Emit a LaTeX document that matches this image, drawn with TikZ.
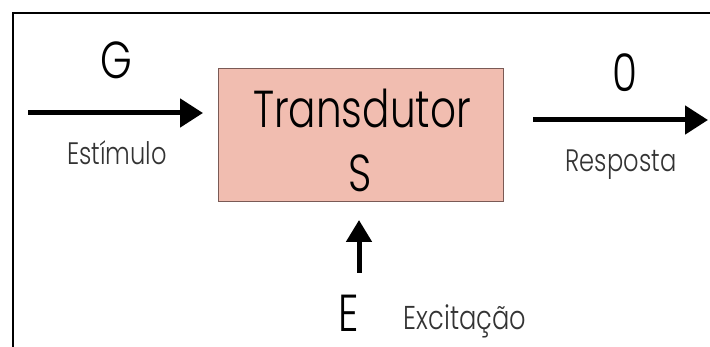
\documentclass[tikz,border=0pt]{standalone}
\usepackage{fontspec}
\usetikzlibrary{arrows.meta}
\newfontfamily\gfont{Poppins Light}[FakeStretch=0.78]
\definecolor{boxfill}{HTML}{F1BDB0}
\definecolor{boxline}{HTML}{7A5A55}
\tikzset{
  big/.style={font=\gfont\fontsize{52}{60}\selectfont, inner sep=0pt, anchor=base, text depth=0pt},
  small/.style={font=\gfont\fontsize{31}{36}\selectfont, inner sep=0pt, anchor=base, text=black!80},
  flow/.style={line width=5pt, -{Triangle[length=23pt,width=28pt]}},
  tbox/.style={draw=boxline, fill=boxfill, line width=1pt, minimum width=285pt, minimum height=133pt, inner sep=0pt},
  frame/.style={line width=2pt}
}
\begin{document}
\begin{tikzpicture}[x=1pt,y=-1pt]
\useasboundingbox (0,0) rectangle (710,347);
\coordinate (fa) at (13,347);
\coordinate (fb) at (13,13);
\coordinate (fc) at (710,13);
\draw[frame] (fa) -- (fb) -- (fc);
\node[tbox] (box) at (360.5,135.5) {};
\node[big] (trans) at (362,128) {Transdutor};
\node[big] (s) at (360,192) {S};
\node[big] (g) at (116,79) {G};
\node[big] (o) at (625,92) {0};
\node[big] (e) at (349,332) {E};
\node[small] (est) at (117,165) {Estímulo};
\node[small] (resp) at (621,172) {Resposta};
\node[small, font=\gfont\fontsize{33}{38}\selectfont] (exc) at (465,330) {Excitação};
\coordinate (ina) at (28,113);
\coordinate (inb) at (203,113);
\coordinate (outa) at (533,120);
\coordinate (outb) at (708,120);
\coordinate (exa) at (359,273);
\coordinate (exb) at (359,220);
\draw[flow] (ina) -- (inb);
\draw[flow] (outa) -- (outb);
\draw[flow, -{Triangle[length=22pt,width=25pt]}] (exa) -- (exb);
\end{tikzpicture}
\end{document}
